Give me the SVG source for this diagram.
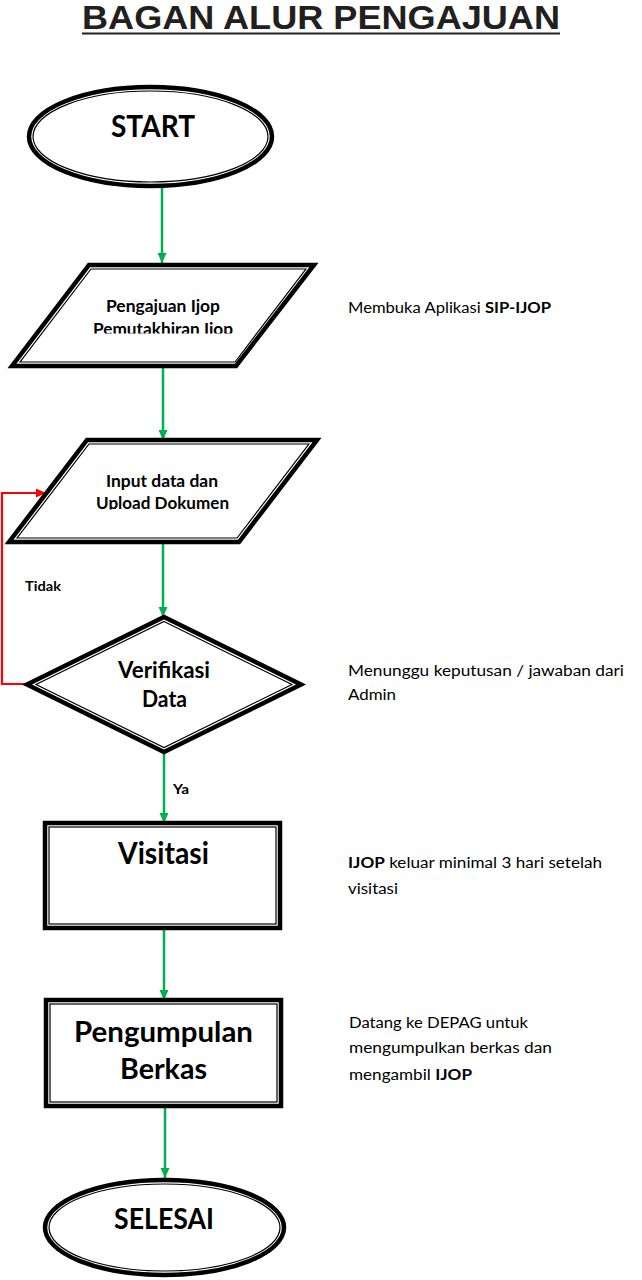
<svg xmlns="http://www.w3.org/2000/svg" width="642" height="1280" viewBox="0 0 642 1280">
  <style>
    .outer { fill: #ffffff; stroke: #000000; stroke-width: 4.5; stroke-linejoin: miter; }
    .inner { fill: none; stroke: #000000; stroke-width: 1.2; }
    .lbl { font-family: Lato, "Open Sans", "Liberation Sans", sans-serif; font-weight: bold; fill: #000000; text-anchor: middle; }
    .note { font-family: Lato, "Open Sans", "Liberation Sans", sans-serif; font-size: 15.5px; fill: #000000; }
    .note .b { font-weight: bold; }
    .edge { font-family: Lato, "Open Sans", "Liberation Sans", sans-serif; font-weight: bold; font-size: 14px; fill: #000000; }
    .green { fill: none; stroke: #00B050; stroke-width: 2.5; }
    .red { fill: none; stroke: #FF0000; stroke-width: 2.2; }
  </style>
  <defs>
    <marker id="ag" markerUnits="userSpaceOnUse" markerWidth="10" markerHeight="10" viewBox="0 0 10 10" refX="10" refY="5" orient="auto">
      <path d="M0,0.5 L10,5 L0,9.5 Z" fill="#00B050"/>
    </marker>
    <marker id="ar" markerUnits="userSpaceOnUse" markerWidth="10" markerHeight="10" viewBox="0 0 10 10" refX="10" refY="5" orient="auto">
      <path d="M0,0.5 L10,5 L0,9.5 Z" fill="#FF0000"/>
    </marker>
    <clipPath id="clip1"><rect x="0" y="280" width="340" height="53.5"/></clipPath>
    <clipPath id="clip2"><rect x="0" y="455" width="340" height="54.5"/></clipPath>
  </defs>

  <g id="title">
    <text x="82" y="28.5" font-family="'Liberation Sans', Arial, sans-serif" font-weight="bold" font-size="33" fill="#231f20" textLength="478" lengthAdjust="spacingAndGlyphs">BAGAN ALUR PENGAJUAN</text>
    <line x1="82" y1="33.5" x2="560" y2="33.5" stroke="#231f20" stroke-width="2"/>
  </g>

  <g id="connectors">
    <line class="green" x1="162" y1="188" x2="162" y2="263" marker-end="url(#ag)"/>
    <line class="green" x1="163" y1="368" x2="163" y2="440" marker-end="url(#ag)"/>
    <line class="green" x1="163" y1="544" x2="163" y2="617" marker-end="url(#ag)"/>
    <line class="green" x1="164" y1="754" x2="164" y2="823" marker-end="url(#ag)"/>
    <line class="green" x1="164" y1="930" x2="164" y2="1000" marker-end="url(#ag)"/>
    <line class="green" x1="165" y1="1108" x2="165" y2="1178" marker-end="url(#ag)"/>
    <path class="red" d="M28,684 L2,684 L2,493 L46,493" marker-end="url(#ar)"/>
    <text class="edge" x="25" y="591" textLength="36" lengthAdjust="spacingAndGlyphs">Tidak</text>
    <text class="edge" x="173" y="794" textLength="16" lengthAdjust="spacingAndGlyphs">Ya</text>
  </g>

  <g id="start">
    <ellipse class="outer" cx="150.5" cy="136.5" rx="121.5" ry="49.5"/>
    <ellipse class="inner" cx="150.5" cy="136.5" rx="117.5" ry="45.5"/>
    <text class="lbl" x="153" y="137" font-size="31" textLength="84" lengthAdjust="spacingAndGlyphs">START</text>
  </g>

  <g id="pengajuan">
    <polygon class="outer" points="89,265 314,265 236,366 12,366"/>
    <polygon class="inner" points="90.98,269 305.92,269 235.02,362 20.08,362"/>
    <text class="lbl" x="163" y="312" font-size="17" textLength="114" lengthAdjust="spacingAndGlyphs">Pengajuan Ijop</text>
    <text class="lbl" x="163" y="334.7" font-size="17" textLength="140" lengthAdjust="spacingAndGlyphs" clip-path="url(#clip1)">Pemutakhiran Ijop</text>
  </g>

  <g id="input">
    <polygon class="outer" points="87,440 317,440 239,542 9,542"/>
    <polygon class="inner" points="88.98,444 308.9,444 237.02,538 17.1,538"/>
    <text class="lbl" x="162" y="486.7" font-size="17" textLength="112" lengthAdjust="spacingAndGlyphs">Input data dan</text>
    <text class="lbl" x="162.5" y="509.4" font-size="17" textLength="133" lengthAdjust="spacingAndGlyphs" clip-path="url(#clip2)">Upload Dokumen</text>
  </g>

  <g id="verifikasi">
    <polygon class="outer" points="164,617 301,684.5 164,752 27,684.5"/>
    <polygon class="inner" points="164,621.5 291.95,684.5 164,747.5 36.05,684.5"/>
    <text class="lbl" x="164" y="678" font-size="23" textLength="92" lengthAdjust="spacingAndGlyphs">Verifikasi</text>
    <text class="lbl" x="164.5" y="707" font-size="23" textLength="45" lengthAdjust="spacingAndGlyphs">Data</text>
  </g>

  <g id="visitasi">
    <rect class="outer" x="45" y="823" width="235" height="105"/>
    <rect class="inner" x="49" y="827" width="227" height="97"/>
    <text class="lbl" x="163.5" y="864" font-size="30" textLength="91" lengthAdjust="spacingAndGlyphs">Visitasi</text>
  </g>

  <g id="pengumpulan">
    <rect class="outer" x="46" y="1000" width="235" height="106"/>
    <rect class="inner" x="50" y="1004" width="227" height="98"/>
    <text class="lbl" x="163.5" y="1042" font-size="29" textLength="179" lengthAdjust="spacingAndGlyphs">Pengumpulan</text>
    <text class="lbl" x="163.5" y="1079" font-size="29" textLength="87" lengthAdjust="spacingAndGlyphs">Berkas</text>
  </g>

  <g id="selesai">
    <ellipse class="outer" cx="164.5" cy="1227.5" rx="119.5" ry="47.5"/>
    <ellipse class="inner" cx="164.5" cy="1227.5" rx="115.5" ry="43.5"/>
    <text class="lbl" x="164" y="1229" font-size="29" textLength="100" lengthAdjust="spacingAndGlyphs">SELESAI</text>
  </g>

  <g id="notes">
    <text class="note" x="348" y="313" textLength="203" lengthAdjust="spacingAndGlyphs">Membuka Aplikasi <tspan class="b">SIP-IJOP</tspan></text>
    <text class="note" x="348" y="676" textLength="276" lengthAdjust="spacingAndGlyphs">Menunggu keputusan / jawaban dari</text>
    <text class="note" x="348" y="700" textLength="48" lengthAdjust="spacingAndGlyphs">Admin</text>
    <text class="note" x="348" y="868" textLength="254" lengthAdjust="spacingAndGlyphs"><tspan class="b">IJOP</tspan> keluar minimal 3 hari setelah</text>
    <text class="note" x="348" y="894" textLength="50" lengthAdjust="spacingAndGlyphs">visitasi</text>
    <text class="note" x="349" y="1028" textLength="179" lengthAdjust="spacingAndGlyphs">Datang ke DEPAG untuk</text>
    <text class="note" x="349" y="1053" textLength="203" lengthAdjust="spacingAndGlyphs">mengumpulkan berkas dan</text>
    <text class="note" x="349" y="1080" textLength="123" lengthAdjust="spacingAndGlyphs">mengambil <tspan class="b">IJOP</tspan></text>
  </g>
</svg>
